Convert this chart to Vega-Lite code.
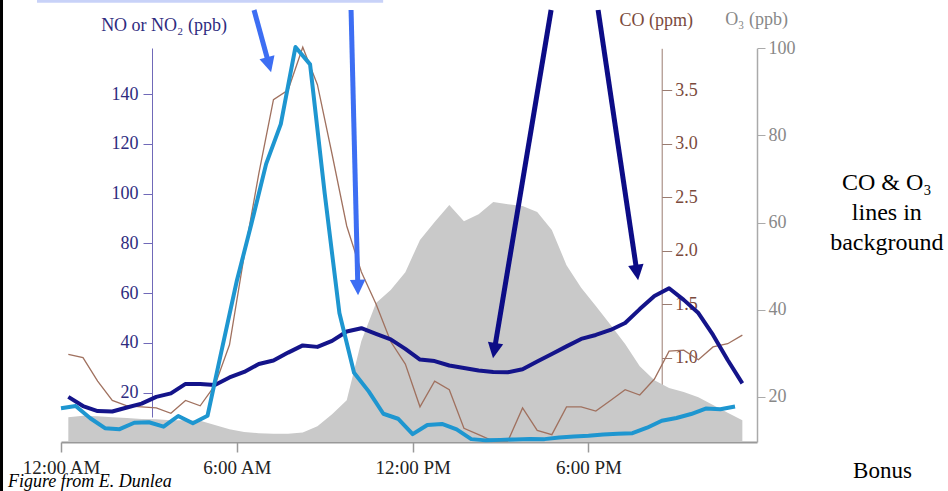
{
  "$schema": "https://vega.github.io/schema/vega-lite/v6.json",
  "width": 696,
  "height": 442,
  "autosize": {"type": "none"},
  "padding": {"left": 61, "top": 0, "right": 191, "bottom": 49},
  "background": "white",
  "config": {
    "view": {"stroke": null},
    "font": "Liberation Serif",
    "axis": {"grid": false, "labelFont": "Liberation Serif", "titleFont": "Liberation Serif", "titleFontWeight": "normal", "zindex": 0, "labelOverlap": false, "labelFlush": false}
  },
  "datasets": {
    "no": [
      {"t": 0.0, "v": 13.7}, {"t": 0.5, "v": 14.6}, {"t": 1.0, "v": 9.7}, {"t": 1.5, "v": 5.7},
      {"t": 2.0, "v": 5.3}, {"t": 2.5, "v": 7.9}, {"t": 3.0, "v": 8.1}, {"t": 3.5, "v": 6.3},
      {"t": 4.0, "v": 10.6}, {"t": 4.5, "v": 7.7}, {"t": 5.0, "v": 10.7}, {"t": 5.5, "v": 38},
      {"t": 6.0, "v": 65}, {"t": 6.5, "v": 88}, {"t": 7.0, "v": 112}, {"t": 7.5, "v": 128},
      {"t": 8.0, "v": 159}, {"t": 8.5, "v": 152}, {"t": 9.0, "v": 100}, {"t": 9.5, "v": 52},
      {"t": 10.0, "v": 28}, {"t": 10.5, "v": 20.5}, {"t": 11.0, "v": 11.5}, {"t": 11.5, "v": 9.5},
      {"t": 12.0, "v": 3.3}, {"t": 12.5, "v": 7.0}, {"t": 13.0, "v": 7.4}, {"t": 13.5, "v": 5.2},
      {"t": 14.0, "v": 1.3}, {"t": 14.5, "v": 0.8}, {"t": 15.0, "v": 1.0}, {"t": 15.5, "v": 1.2},
      {"t": 16.0, "v": 1.4}, {"t": 16.5, "v": 1.3}, {"t": 17.0, "v": 2.0}, {"t": 17.5, "v": 2.4},
      {"t": 18.0, "v": 2.7}, {"t": 18.5, "v": 3.2}, {"t": 19.0, "v": 3.5}, {"t": 19.5, "v": 3.7},
      {"t": 20.0, "v": 5.9}, {"t": 20.5, "v": 8.7}, {"t": 21.0, "v": 9.8}, {"t": 21.5, "v": 11.4},
      {"t": 22.0, "v": 13.6}, {"t": 22.5, "v": 13.3}, {"t": 23.0, "v": 14.4}
    ],
    "no2": [
      {"t": 0.25, "v": 18.3}, {"t": 0.75, "v": 14.6}, {"t": 1.25, "v": 12.6}, {"t": 1.75, "v": 12.4},
      {"t": 2.25, "v": 14.0}, {"t": 2.75, "v": 15.6}, {"t": 3.25, "v": 18.3}, {"t": 3.75, "v": 19.7},
      {"t": 4.25, "v": 23.5}, {"t": 4.75, "v": 23.5}, {"t": 5.25, "v": 23.1}, {"t": 5.75, "v": 26.1},
      {"t": 6.25, "v": 28.3}, {"t": 6.75, "v": 31.5}, {"t": 7.25, "v": 32.9}, {"t": 7.75, "v": 36.1},
      {"t": 8.25, "v": 39.0}, {"t": 8.75, "v": 38.4}, {"t": 9.25, "v": 40.8}, {"t": 9.75, "v": 44.6},
      {"t": 10.25, "v": 45.9}, {"t": 10.75, "v": 43.6}, {"t": 11.25, "v": 41.4}, {"t": 11.75, "v": 37.6},
      {"t": 12.25, "v": 33.3}, {"t": 12.75, "v": 32.7}, {"t": 13.25, "v": 30.9}, {"t": 13.75, "v": 29.9},
      {"t": 14.25, "v": 28.9}, {"t": 14.75, "v": 28.3}, {"t": 15.25, "v": 28.2}, {"t": 15.75, "v": 29.4},
      {"t": 16.25, "v": 32.5}, {"t": 16.75, "v": 35.5}, {"t": 17.25, "v": 38.6}, {"t": 17.75, "v": 41.6},
      {"t": 18.25, "v": 43.2}, {"t": 18.75, "v": 45.2}, {"t": 19.25, "v": 48.0}, {"t": 19.75, "v": 53.6},
      {"t": 20.25, "v": 58.9}, {"t": 20.75, "v": 62.0}, {"t": 21.25, "v": 57.3}, {"t": 21.75, "v": 52.0},
      {"t": 22.25, "v": 43.2}, {"t": 22.75, "v": 33.1}, {"t": 23.25, "v": 23.7}
    ],
    "co": [
      {"t": 0.25, "co": 1.03}, {"t": 0.75, "co": 1.00}, {"t": 1.25, "co": 0.78}, {"t": 1.75, "co": 0.60},
      {"t": 2.25, "co": 0.55}, {"t": 2.75, "co": 0.54}, {"t": 3.25, "co": 0.53}, {"t": 3.75, "co": 0.48},
      {"t": 4.25, "co": 0.60}, {"t": 4.75, "co": 0.55}, {"t": 5.25, "co": 0.74}, {"t": 5.75, "co": 1.12},
      {"t": 6.25, "co": 1.95}, {"t": 6.75, "co": 2.72}, {"t": 7.25, "co": 3.41}, {"t": 7.75, "co": 3.50},
      {"t": 8.25, "co": 3.90}, {"t": 8.75, "co": 3.55}, {"t": 9.25, "co": 2.90}, {"t": 9.75, "co": 2.23},
      {"t": 10.25, "co": 1.80}, {"t": 10.75, "co": 1.50}, {"t": 11.25, "co": 1.15}, {"t": 11.75, "co": 0.94},
      {"t": 12.25, "co": 0.54}, {"t": 12.75, "co": 0.78}, {"t": 13.25, "co": 0.70}, {"t": 13.75, "co": 0.34},
      {"t": 14.25, "co": 0.28}, {"t": 14.75, "co": 0.22}, {"t": 15.25, "co": 0.22}, {"t": 15.75, "co": 0.53},
      {"t": 16.25, "co": 0.32}, {"t": 16.75, "co": 0.28}, {"t": 17.25, "co": 0.54}, {"t": 17.75, "co": 0.54},
      {"t": 18.25, "co": 0.50}, {"t": 18.75, "co": 0.60}, {"t": 19.25, "co": 0.70}, {"t": 19.75, "co": 0.65},
      {"t": 20.25, "co": 0.80}, {"t": 20.75, "co": 1.06}, {"t": 21.25, "co": 1.07}, {"t": 21.75, "co": 0.98},
      {"t": 22.25, "co": 1.10}, {"t": 22.75, "co": 1.13}, {"t": 23.25, "co": 1.21}
    ],
    "o3": [
      {"t": 0.25, "o3": 15.3}, {"t": 0.75, "o3": 15.6}, {"t": 1.25, "o3": 15.5}, {"t": 1.75, "o3": 15.3},
      {"t": 2.25, "o3": 15.1}, {"t": 2.75, "o3": 14.9}, {"t": 3.25, "o3": 14.8}, {"t": 3.75, "o3": 14.6},
      {"t": 4.25, "o3": 14.6}, {"t": 4.75, "o3": 14.5}, {"t": 5.25, "o3": 13.5}, {"t": 5.75, "o3": 12.5},
      {"t": 6.25, "o3": 11.9}, {"t": 6.75, "o3": 11.6}, {"t": 7.25, "o3": 11.5}, {"t": 7.75, "o3": 11.5},
      {"t": 8.25, "o3": 11.8}, {"t": 8.75, "o3": 13.2}, {"t": 9.25, "o3": 16.0}, {"t": 9.75, "o3": 19.2},
      {"t": 10.25, "o3": 32.8}, {"t": 10.75, "o3": 41.5}, {"t": 11.25, "o3": 44.5}, {"t": 11.75, "o3": 48.6},
      {"t": 12.25, "o3": 56.0}, {"t": 12.75, "o3": 60.1}, {"t": 13.25, "o3": 64.0}, {"t": 13.75, "o3": 60.3},
      {"t": 14.25, "o3": 61.9}, {"t": 14.75, "o3": 64.7}, {"t": 15.25, "o3": 64.2}, {"t": 15.75, "o3": 63.8},
      {"t": 16.25, "o3": 62.4}, {"t": 16.75, "o3": 58.3}, {"t": 17.25, "o3": 50.2}, {"t": 17.75, "o3": 45.0},
      {"t": 18.25, "o3": 40.8}, {"t": 18.75, "o3": 36.5}, {"t": 19.25, "o3": 32.1}, {"t": 19.75, "o3": 27.0},
      {"t": 20.25, "o3": 23.8}, {"t": 20.75, "o3": 22.0}, {"t": 21.25, "o3": 21.1}, {"t": 21.75, "o3": 19.9},
      {"t": 22.25, "o3": 18.1}, {"t": 22.75, "o3": 16.3}, {"t": 23.25, "o3": 14.6}
    ],
    "arrows": [
      {"id": 1, "target": "NO", "t": 6.587, "v": 173.88, "t2": 7.099, "v2": 151.85},
      {"id": 2, "target": "NO", "t": 9.898, "v": 173.88, "t2": 10.130, "v2": 62.28},
      {"id": 3, "target": "NO2", "t": 16.724, "v": 173.88, "t2": 14.785, "v2": 36.90},
      {"id": 4, "target": "NO2", "t": 18.328, "v": 173.88, "t2": 19.655, "v2": 68.27}
    ],
    "frame": [
      {"t": -2.03, "v": -19.6, "v2": 177.9}
    ],
    "band": [
      {"t": -0.819, "t2": 10.993, "v": 177.9, "v2": 176.8}
    ],
    "notes": [
      {"t": 28.18, "v": 101.49, "label": "CO & O₃"},
      {"t": 28.18, "v": 89.43, "label": "lines in"},
      {"t": 28.18, "v": 77.36, "label": "background"}
    ],
    "bonus": [
      {"t": 27.03, "v": -14.33, "label": "Bonus"}
    ],
    "credit": [
      {"t": -1.809, "v": -17.95, "label": "Figure from E. Dunlea"}
    ]
  },
  "layer": [
    {
      "data": {"name": "o3"},
      "mark": {"type": "area", "color": "#c9c9c9", "opacity": 1},
      "encoding": {
        "x": {
          "field": "t", "type": "quantitative",
          "scale": {"domain": [0, 23.75], "nice": false, "zero": false},
          "axis": {
            "values": [0, 6, 12, 18],
            "labelExpr": "datum.value == 0 ? '12:00 AM' : datum.value == 6 ? '6:00 AM' : datum.value == 12 ? '12:00 PM' : '6:00 PM'",
            "title": null, "domainColor": "#999999", "domainWidth": 2, "tickColor": "#999999", "tickWidth": 1.5, "tickSize": 10,
            "labelFontSize": 19, "labelColor": "#222222", "labelPadding": 6
          }
        },
        "y": {
          "field": "o3", "type": "quantitative",
          "scale": {"domain": [9.6, 100], "range": [442, 48.3], "nice": false, "zero": false},
          "axis": {
            "orient": "right", "values": [20, 40, 60, 80, 100],
            "domainColor": "#aaaaaa", "domainWidth": 1.5, "tickColor": "#aaaaaa", "tickSize": 8,
            "labelFontSize": 18, "labelColor": "#888888", "labelPadding": 3,
            "title": "O₃ (ppb)", "titleAngle": 0, "titleX": -1, "titleY": 24, "titleAlign": "center", "titleBaseline": "alphabetic",
            "titleFontSize": 18, "titleColor": "#888888"
          }
        },
        "y2": {"datum": 9.6}
      }
    },
    {
      "data": {"name": "co"},
      "mark": {"type": "line", "color": "#a0715f", "strokeWidth": 1.3},
      "encoding": {
        "x": {"field": "t", "type": "quantitative", "scale": {"domain": [0, 23.75], "nice": false, "zero": false}},
        "y": {
          "field": "co", "type": "quantitative",
          "scale": {"domain": [0.744, 3.89], "range": [385, 48.3], "nice": false, "zero": false},
          "axis": {
            "orient": "right", "offset": -95.3, "values": [1, 1.5, 2, 2.5, 3, 3.5], "format": ".1f",
            "domainColor": "#9a7b70", "tickColor": "#9a7b70", "tickSize": 10,
            "labelFontSize": 18, "labelColor": "#7a4a3c", "labelPadding": 3,
            "title": "CO (ppm)", "titleAngle": 0, "titleX": -6, "titleY": 25, "titleAlign": "center", "titleBaseline": "alphabetic",
            "titleFontSize": 18, "titleColor": "#7a4a3c"
          }
        }
      }
    },
    {
      "layer": [
        {
          "data": {"name": "no2"},
          "mark": {"type": "line", "color": "#14148a", "strokeWidth": 4, "strokeJoin": "round"},
          "encoding": {
            "x": {"field": "t", "type": "quantitative", "scale": {"domain": [0, 23.75], "nice": false, "zero": false}},
            "y": {
              "field": "v", "type": "quantitative",
              "scale": {"domain": [10.2, 158.6], "range": [417, 48], "nice": false, "zero": false},
              "axis": {
                "orient": "left", "offset": -91, "values": [20, 40, 60, 80, 100, 120, 140],
                "domainColor": "#7069b8", "tickColor": "#7069b8", "tickSize": 9,
                "labelFontSize": 18, "labelColor": "#2e2b7e", "labelPadding": 5,
                "title": "NO or NO₂ (ppb)", "titleAngle": 0, "titleX": 11.5, "titleY": 30, "titleAlign": "center", "titleBaseline": "alphabetic",
                "titleFontSize": 18, "titleColor": "#2e2b7e"
              }
            }
          }
        },
        {
          "data": {"name": "band"},
          "mark": {"type": "rect", "color": "#c8d2f8"},
          "encoding": {
            "x": {"field": "t", "type": "quantitative", "scale": {"domain": [0, 23.75], "nice": false, "zero": false}},
            "x2": {"field": "t2"},
            "y": {"field": "v", "type": "quantitative", "scale": {"domain": [10.2, 158.6], "range": [417, 48], "nice": false, "zero": false}},
            "y2": {"field": "v2"}
          }
        },
        {
          "data": {"name": "frame"},
          "mark": {"type": "rule", "color": "#000000", "strokeWidth": 3},
          "encoding": {
            "x": {"field": "t", "type": "quantitative", "scale": {"domain": [0, 23.75], "nice": false, "zero": false}},
            "y": {"field": "v", "type": "quantitative", "scale": {"domain": [10.2, 158.6], "range": [417, 48], "nice": false, "zero": false}},
            "y2": {"field": "v2"}
          }
        },
        {
          "data": {"name": "no"},
          "mark": {"type": "line", "color": "#1e96d0", "strokeWidth": 4, "strokeJoin": "round"},
          "encoding": {
            "x": {"field": "t", "type": "quantitative", "scale": {"domain": [0, 23.75], "nice": false, "zero": false}},
            "y": {"field": "v", "type": "quantitative", "scale": {"domain": [10.2, 158.6], "range": [417, 48], "nice": false, "zero": false}}
          }
        },
        {
          "data": {"name": "arrows"},
          "mark": {"type": "rule", "strokeWidth": 5},
          "encoding": {
            "x": {"field": "t", "type": "quantitative", "scale": {"domain": [0, 23.75], "nice": false, "zero": false}},
            "y": {"field": "v", "type": "quantitative", "scale": {"domain": [10.2, 158.6], "range": [417, 48], "nice": false, "zero": false}},
            "x2": {"field": "t2"},
            "y2": {"field": "v2"},
            "color": {"field": "target", "type": "nominal", "scale": {"domain": ["NO", "NO2"], "range": ["#3d6ef3", "#0c0c86"]}, "legend": null}
          }
        },
        {
          "data": {"name": "arrows"},
          "transform": [{"filter": "datum.id == 1"}],
          "mark": {"type": "point", "shape": "M-1,-1L1,-1L0,1Z", "filled": true, "opacity": 1, "size": 240, "angle": -15.3},
          "encoding": {
            "x": {"field": "t2", "type": "quantitative", "scale": {"domain": [0, 23.75], "nice": false, "zero": false}},
            "y": {"field": "v2", "type": "quantitative", "scale": {"domain": [10.2, 158.6], "range": [417, 48], "nice": false, "zero": false}},
            "color": {"field": "target", "type": "nominal", "scale": {"domain": ["NO", "NO2"], "range": ["#3d6ef3", "#0c0c86"]}, "legend": null}
          }
        },
        {
          "data": {"name": "arrows"},
          "transform": [{"filter": "datum.id == 2"}],
          "mark": {"type": "point", "shape": "M-1,-1L1,-1L0,1Z", "filled": true, "opacity": 1, "size": 240, "angle": -1.4},
          "encoding": {
            "x": {"field": "t2", "type": "quantitative", "scale": {"domain": [0, 23.75], "nice": false, "zero": false}},
            "y": {"field": "v2", "type": "quantitative", "scale": {"domain": [10.2, 158.6], "range": [417, 48], "nice": false, "zero": false}},
            "color": {"field": "target", "type": "nominal", "scale": {"domain": ["NO", "NO2"], "range": ["#3d6ef3", "#0c0c86"]}, "legend": null}
          }
        },
        {
          "data": {"name": "arrows"},
          "transform": [{"filter": "datum.id == 3"}],
          "mark": {"type": "point", "shape": "M-1,-1L1,-1L0,1Z", "filled": true, "opacity": 1, "size": 240, "angle": 9.5},
          "encoding": {
            "x": {"field": "t2", "type": "quantitative", "scale": {"domain": [0, 23.75], "nice": false, "zero": false}},
            "y": {"field": "v2", "type": "quantitative", "scale": {"domain": [10.2, 158.6], "range": [417, 48], "nice": false, "zero": false}},
            "color": {"field": "target", "type": "nominal", "scale": {"domain": ["NO", "NO2"], "range": ["#3d6ef3", "#0c0c86"]}, "legend": null}
          }
        },
        {
          "data": {"name": "arrows"},
          "transform": [{"filter": "datum.id == 4"}],
          "mark": {"type": "point", "shape": "M-1,-1L1,-1L0,1Z", "filled": true, "opacity": 1, "size": 240, "angle": -8.4},
          "encoding": {
            "x": {"field": "t2", "type": "quantitative", "scale": {"domain": [0, 23.75], "nice": false, "zero": false}},
            "y": {"field": "v2", "type": "quantitative", "scale": {"domain": [10.2, 158.6], "range": [417, 48], "nice": false, "zero": false}},
            "color": {"field": "target", "type": "nominal", "scale": {"domain": ["NO", "NO2"], "range": ["#3d6ef3", "#0c0c86"]}, "legend": null}
          }
        },
        {
          "data": {"name": "notes"},
          "mark": {"type": "text", "align": "center", "baseline": "alphabetic", "fontSize": 24, "font": "Liberation Serif", "color": "#000000"},
          "encoding": {
            "x": {"field": "t", "type": "quantitative", "scale": {"domain": [0, 23.75], "nice": false, "zero": false}},
            "y": {"field": "v", "type": "quantitative", "scale": {"domain": [10.2, 158.6], "range": [417, 48], "nice": false, "zero": false}},
            "text": {"field": "label"}
          }
        },
        {
          "data": {"name": "bonus"},
          "mark": {"type": "text", "align": "left", "baseline": "alphabetic", "fontSize": 23, "font": "Liberation Serif", "color": "#000000"},
          "encoding": {
            "x": {"field": "t", "type": "quantitative", "scale": {"domain": [0, 23.75], "nice": false, "zero": false}},
            "y": {"field": "v", "type": "quantitative", "scale": {"domain": [10.2, 158.6], "range": [417, 48], "nice": false, "zero": false}},
            "text": {"field": "label"}
          }
        },
        {
          "data": {"name": "credit"},
          "mark": {"type": "text", "align": "left", "baseline": "alphabetic", "fontSize": 18, "fontStyle": "italic", "font": "Liberation Serif", "color": "#000000"},
          "encoding": {
            "x": {"field": "t", "type": "quantitative", "scale": {"domain": [0, 23.75], "nice": false, "zero": false}},
            "y": {"field": "v", "type": "quantitative", "scale": {"domain": [10.2, 158.6], "range": [417, 48], "nice": false, "zero": false}},
            "text": {"field": "label"}
          }
        }
      ]
    }
  ],
  "resolve": {"scale": {"y": "independent"}}
}
